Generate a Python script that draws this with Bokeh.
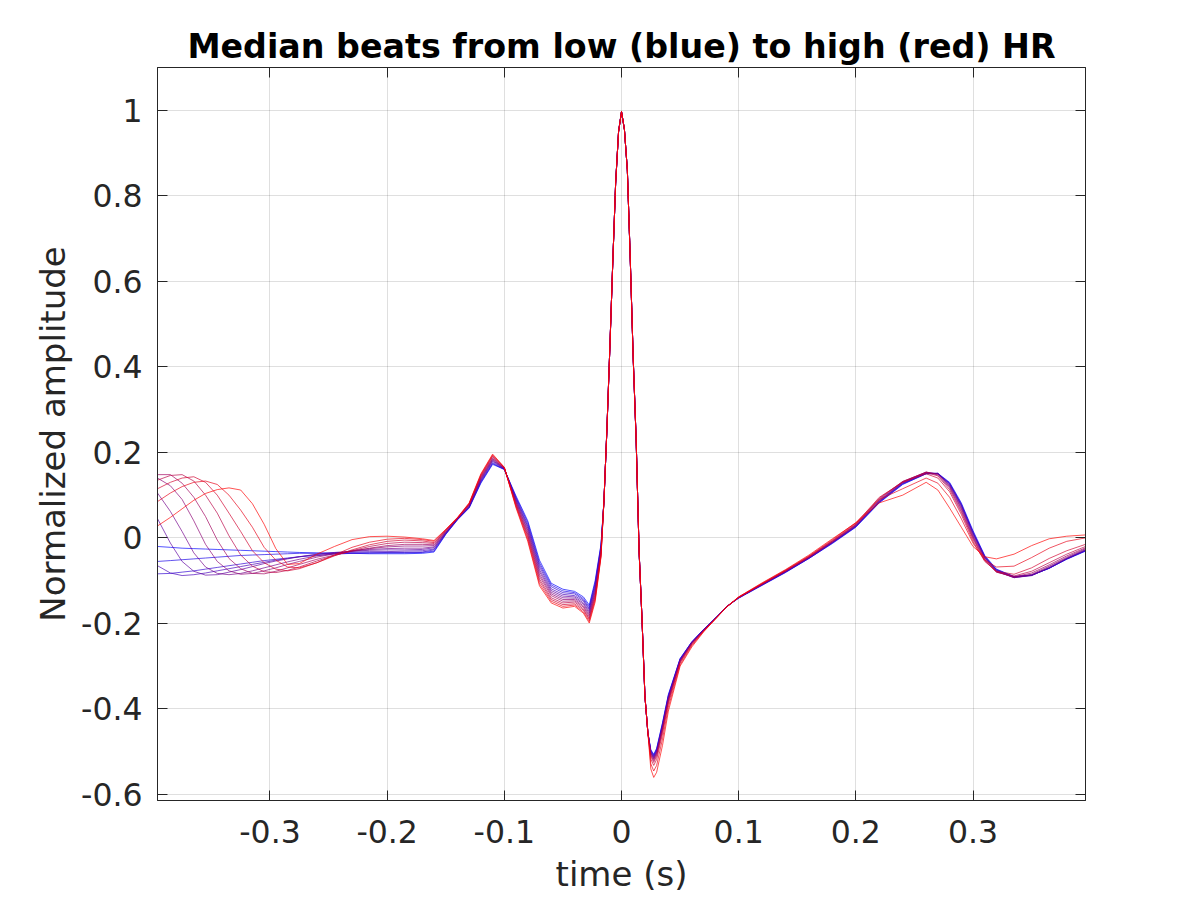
from bokeh.plotting import figure
from bokeh.models import (Range1d, LinearAxis, FixedTicker, CustomJSTickFormatter,
                          CustomLabelingPolicy)
from bokeh.embed import file_html
from bokeh.resources import INLINE

# ---------------- data ----------------
time_pre = [-0.396, -0.385, -0.375, -0.365, -0.355, -0.345, -0.335, -0.325, -0.315, -0.305,
            -0.295, -0.285, -0.275, -0.26, -0.245, -0.23, -0.215, -0.2, -0.185, -0.17,
            -0.16, -0.15, -0.14, -0.13, -0.12, -0.11, -0.10, -0.09, -0.08, -0.07,
            -0.06, -0.05, -0.04, -0.0325, -0.0275, -0.0225, -0.0175]
time_r = [-0.015, -0.0125, -0.01, -0.0075, -0.005, -0.0025, 0.0, 0.0025, 0.005, 0.0075,
          0.01, 0.0125, 0.015, 0.0175, 0.02, 0.0225]
time_post = [0.025, 0.0275, 0.03, 0.035, 0.04, 0.05, 0.06, 0.07, 0.08, 0.09,
             0.10, 0.12, 0.14, 0.16, 0.18, 0.20, 0.22, 0.24, 0.26, 0.27,
             0.28, 0.29, 0.30, 0.31, 0.32, 0.335, 0.35, 0.365, 0.38, 0.396]

# R spike, common to every median beat
r_spike = [0.085, 0.25, 0.44, 0.64, 0.83, 0.95, 0.997, 0.955, 0.86, 0.65,
           0.42, 0.23, -0.03, -0.19, -0.37, -0.455]

# beats ordered from low HR (blue) to high HR (red): part before the R spike
pre_beats = [
    [-0.020, -0.022, -0.024, -0.025, -0.026, -0.027, -0.028, -0.029, -0.030, -0.031,
     -0.032, -0.033, -0.034, -0.035, -0.036, -0.036, -0.037, -0.037, -0.037, -0.036,
     -0.033, 0.008, 0.042, 0.070, 0.128, 0.172, 0.160, 0.098, 0.040, -0.052,
     -0.106, -0.120, -0.125, -0.138, -0.157, -0.100, -0.015],
    [-0.055, -0.053, -0.051, -0.049, -0.047, -0.045, -0.043, -0.041, -0.040, -0.039,
     -0.038, -0.037, -0.036, -0.036, -0.035, -0.035, -0.035, -0.035, -0.035, -0.034,
     -0.031, 0.009, 0.043, 0.071, 0.130, 0.174, 0.160, 0.095, 0.036, -0.058,
     -0.110, -0.124, -0.128, -0.142, -0.161, -0.105, -0.018],
    [-0.084, -0.083, -0.080, -0.077, -0.073, -0.069, -0.065, -0.061, -0.057, -0.053,
     -0.050, -0.047, -0.044, -0.041, -0.038, -0.036, -0.035, -0.034, -0.034, -0.033,
     -0.028, 0.010, 0.043, 0.072, 0.132, 0.176, 0.161, 0.093, 0.031, -0.063,
     -0.114, -0.128, -0.131, -0.145, -0.165, -0.109, -0.021],
    [-0.065, -0.082, -0.088, -0.086, -0.082, -0.077, -0.072, -0.067, -0.062, -0.057,
     -0.052, -0.048, -0.044, -0.039, -0.035, -0.033, -0.032, -0.032, -0.031, -0.030,
     -0.026, 0.011, 0.044, 0.073, 0.134, 0.179, 0.161, 0.090, 0.027, -0.068,
     -0.119, -0.132, -0.135, -0.148, -0.168, -0.114, -0.024],
    [0.045, -0.012, -0.055, -0.078, -0.087, -0.086, -0.080, -0.074, -0.067, -0.060,
     -0.054, -0.049, -0.044, -0.038, -0.034, -0.031, -0.029, -0.028, -0.028, -0.027,
     -0.023, 0.012, 0.044, 0.074, 0.136, 0.181, 0.162, 0.088, 0.023, -0.074,
     -0.123, -0.136, -0.138, -0.152, -0.172, -0.118, -0.027],
    [0.105, 0.062, 0.015, -0.035, -0.068, -0.083, -0.086, -0.083, -0.077, -0.070,
     -0.063, -0.056, -0.050, -0.042, -0.036, -0.031, -0.027, -0.025, -0.024, -0.024,
     -0.021, 0.013, 0.045, 0.075, 0.138, 0.183, 0.162, 0.085, 0.018, -0.079,
     -0.127, -0.140, -0.141, -0.155, -0.176, -0.123, -0.030],
    [0.140, 0.122, 0.090, 0.040, -0.015, -0.055, -0.077, -0.085, -0.083, -0.077,
     -0.070, -0.062, -0.055, -0.045, -0.037, -0.030, -0.025, -0.021, -0.019, -0.019,
     -0.018, 0.014, 0.045, 0.077, 0.140, 0.185, 0.163, 0.083, 0.014, -0.085,
     -0.131, -0.144, -0.144, -0.159, -0.180, -0.127, -0.033],
    [0.148, 0.148, 0.128, 0.095, 0.050, -0.005, -0.048, -0.072, -0.083, -0.084,
     -0.078, -0.070, -0.062, -0.050, -0.040, -0.031, -0.024, -0.018, -0.015, -0.015,
     -0.016, 0.016, 0.046, 0.078, 0.142, 0.187, 0.163, 0.080, 0.009, -0.090,
     -0.135, -0.148, -0.147, -0.162, -0.184, -0.132, -0.036],
    [0.135, 0.146, 0.148, 0.133, 0.100, 0.058, 0.005, -0.040, -0.066, -0.079,
     -0.081, -0.076, -0.068, -0.054, -0.041, -0.030, -0.020, -0.013, -0.010, -0.011,
     -0.013, 0.017, 0.046, 0.079, 0.144, 0.190, 0.164, 0.078, 0.005, -0.096,
     -0.140, -0.152, -0.150, -0.166, -0.188, -0.136, -0.039],
    [0.115, 0.130, 0.140, 0.143, 0.130, 0.100, 0.058, 0.015, -0.030, -0.058,
     -0.073, -0.077, -0.072, -0.058, -0.042, -0.028, -0.016, -0.008, -0.005, -0.007,
     -0.011, 0.018, 0.047, 0.080, 0.146, 0.192, 0.164, 0.075, 0.001, -0.101,
     -0.144, -0.156, -0.154, -0.169, -0.191, -0.141, -0.041],
    [0.085, 0.105, 0.120, 0.130, 0.133, 0.125, 0.100, 0.065, 0.025, -0.022,
     -0.052, -0.068, -0.070, -0.058, -0.040, -0.022, -0.010, -0.003, -0.001, -0.004,
     -0.008, 0.019, 0.047, 0.081, 0.148, 0.194, 0.165, 0.073, -0.004, -0.107,
     -0.148, -0.160, -0.157, -0.173, -0.195, -0.145, -0.043],
    [0.028, 0.048, 0.068, 0.088, 0.104, 0.113, 0.117, 0.112, 0.080, 0.032,
     -0.025, -0.062, -0.060, -0.038, -0.020, -0.004, 0.003, 0.004, 0.002, -0.002,
     -0.006, 0.020, 0.048, 0.082, 0.150, 0.196, 0.165, 0.070, -0.008, -0.112,
     -0.152, -0.164, -0.160, -0.176, -0.199, -0.150, -0.045],
]

# part after the R spike (S wave, ST segment, T wave)
post_beats = [
    [-0.495, -0.506, -0.492, -0.432, -0.366, -0.282, -0.243, -0.214, -0.188, -0.160,
     -0.141, -0.111, -0.081, -0.048, -0.013, 0.025, 0.082, 0.125, 0.150, 0.151,
     0.130, 0.082, 0.017, -0.041, -0.073, -0.090, -0.087, -0.071, -0.050, -0.031],
    [-0.497, -0.508, -0.494, -0.434, -0.368, -0.283, -0.243, -0.214, -0.188, -0.160,
     -0.140, -0.110, -0.080, -0.048, -0.012, 0.026, 0.083, 0.126, 0.150, 0.150,
     0.128, 0.079, 0.014, -0.043, -0.074, -0.091, -0.087, -0.071, -0.049, -0.030],
    [-0.498, -0.510, -0.496, -0.437, -0.370, -0.284, -0.244, -0.215, -0.188, -0.160,
     -0.140, -0.110, -0.080, -0.047, -0.011, 0.027, 0.084, 0.127, 0.151, 0.151,
     0.127, 0.078, 0.013, -0.044, -0.075, -0.091, -0.087, -0.071, -0.049, -0.030],
    [-0.500, -0.512, -0.498, -0.439, -0.372, -0.285, -0.244, -0.215, -0.188, -0.160,
     -0.140, -0.109, -0.079, -0.047, -0.011, 0.027, 0.085, 0.128, 0.151, 0.151,
     0.126, 0.076, 0.011, -0.045, -0.076, -0.092, -0.088, -0.070, -0.049, -0.029],
    [-0.502, -0.514, -0.500, -0.441, -0.374, -0.286, -0.245, -0.215, -0.188, -0.160,
     -0.140, -0.109, -0.079, -0.046, -0.010, 0.028, 0.086, 0.129, 0.152, 0.150,
     0.124, 0.074, 0.009, -0.046, -0.077, -0.093, -0.088, -0.070, -0.048, -0.028],
    [-0.503, -0.516, -0.502, -0.443, -0.376, -0.287, -0.245, -0.216, -0.189, -0.160,
     -0.140, -0.109, -0.078, -0.046, -0.010, 0.029, 0.087, 0.130, 0.153, 0.150,
     0.122, 0.071, 0.006, -0.047, -0.078, -0.093, -0.087, -0.068, -0.047, -0.027],
    [-0.505, -0.518, -0.504, -0.445, -0.378, -0.288, -0.246, -0.216, -0.189, -0.161,
     -0.139, -0.108, -0.078, -0.045, -0.009, 0.030, 0.089, 0.131, 0.154, 0.149,
     0.120, 0.068, 0.003, -0.049, -0.079, -0.092, -0.085, -0.066, -0.045, -0.025],
    [-0.508, -0.521, -0.507, -0.448, -0.380, -0.289, -0.247, -0.217, -0.189, -0.161,
     -0.139, -0.108, -0.077, -0.045, -0.008, 0.031, 0.091, 0.132, 0.154, 0.147,
     0.117, 0.064, 0.000, -0.051, -0.080, -0.091, -0.082, -0.063, -0.042, -0.023],
    [-0.511, -0.525, -0.511, -0.452, -0.383, -0.291, -0.248, -0.217, -0.189, -0.161,
     -0.139, -0.108, -0.077, -0.044, -0.007, 0.032, 0.093, 0.132, 0.153, 0.145,
     0.113, 0.060, -0.003, -0.053, -0.080, -0.089, -0.078, -0.058, -0.038, -0.020],
    [-0.517, -0.532, -0.518, -0.458, -0.388, -0.293, -0.250, -0.218, -0.190, -0.161,
     -0.139, -0.107, -0.076, -0.043, -0.006, 0.034, 0.095, 0.130, 0.150, 0.140,
     0.108, 0.055, -0.008, -0.055, -0.078, -0.085, -0.070, -0.048, -0.030, -0.015],
    [-0.528, -0.545, -0.532, -0.470, -0.396, -0.297, -0.252, -0.219, -0.190, -0.161,
     -0.138, -0.106, -0.075, -0.042, -0.004, 0.036, 0.090, 0.115, 0.140, 0.128,
     0.095, 0.045, -0.012, -0.052, -0.068, -0.066, -0.046, -0.024, -0.008, 0.000],
    [-0.540, -0.560, -0.548, -0.485, -0.405, -0.300, -0.255, -0.220, -0.190, -0.160,
     -0.138, -0.105, -0.074, -0.040, -0.002, 0.035, 0.082, 0.100, 0.130, 0.112,
     0.070, 0.025, -0.020, -0.044, -0.049, -0.038, -0.018, -0.002, 0.004, 0.007],
]

x_ticks = [-0.3, -0.2, -0.1, 0, 0.1, 0.2, 0.3]
y_ticks = [-0.6, -0.4, -0.2, 0, 0.2, 0.4, 0.6, 0.8, 1]
title_text = "Median beats from low (blue) to high (red) HR"
x_label = "time (s)"
y_label = "Normalized amplitude"

# ---------------- figure ----------------
FONT = "DejaVu Sans"
AX = "#262626"

p = figure(x_range=Range1d(-0.396, 0.396), y_range=Range1d(-0.614, 1.1),
           frame_width=928, frame_height=733,
           min_border_left=157, min_border_right=107, min_border_top=67, min_border_bottom=92,
           output_backend="svg", toolbar_location=None,
           background_fill_color="white", border_fill_color="white")
p.xaxis.visible = False
p.yaxis.visible = False

xt = FixedTicker(ticks=x_ticks)
yt = FixedTicker(ticks=y_ticks)
fmt = CustomJSTickFormatter(code="return String(Math.round(tick*10)/10);")
no_labels = CustomLabelingPolicy(code="""
if (typeof indices.unset === 'function') {
  for (const i of Array.from(indices)) { indices.unset(i); }
  return indices;
}
return new indices.constructor(indices.size);
""")

def style_axis(ax, size="31.5px"):
    ax.axis_line_color = AX
    ax.axis_line_width = 1
    ax.major_tick_in = 10
    ax.major_tick_out = 0
    ax.minor_tick_in = 0
    ax.minor_tick_out = 0
    ax.major_tick_line_color = AX
    ax.major_label_text_font = FONT
    ax.major_label_text_color = AX
    ax.major_label_text_font_size = size

bottom = LinearAxis(ticker=xt, formatter=fmt, axis_label=x_label)
style_axis(bottom)
bottom.major_label_standoff = 19
bottom.axis_label_standoff = 8
left = LinearAxis(ticker=yt, formatter=fmt, axis_label=y_label)
style_axis(left)
left.major_label_standoff = 15
left.axis_label_standoff = 5
for ax in (bottom, left):
    ax.axis_label_text_font = FONT
    ax.axis_label_text_font_size = "34px"
    ax.axis_label_text_font_style = "normal"
    ax.axis_label_text_color = AX

# box ticks on top and right (no labels drawn there)
top = LinearAxis(ticker=xt, formatter=fmt, major_label_policy=no_labels)
style_axis(top, size="0px")
top.major_label_standoff = 0
right = LinearAxis(ticker=yt, formatter=fmt, major_label_policy=no_labels)
style_axis(right, size="0px")
right.major_label_standoff = 0
p.add_layout(bottom, "below")
p.add_layout(left, "left")
p.add_layout(top, "above")
p.add_layout(right, "right")

p.xgrid.ticker = xt
p.ygrid.ticker = yt
for g in (p.xgrid, p.ygrid):
    g.grid_line_color = AX
    g.grid_line_alpha = 0.15
    g.grid_line_width = 1
p.outline_line_color = AX
p.outline_line_width = 1

p.title.text = title_text
p.title.align = "center"
p.title.text_font = FONT
p.title.text_font_size = "33.3px"
p.title.text_font_style = "bold"
p.title.text_color = "black"
p.title.standoff = 4

n = len(pre_beats)
times = time_pre + time_r + time_post
for k in range(n):
    f = k / (n - 1)
    color = "#%02x%02x%02x" % (round(255 * f), 0, round(255 * (1 - f)))
    p.line(times, pre_beats[k] + r_spike + post_beats[k], line_color=color,
           line_width=0.8, line_alpha=0.85)

open("out.html", "w").write(file_html(p, INLINE))
